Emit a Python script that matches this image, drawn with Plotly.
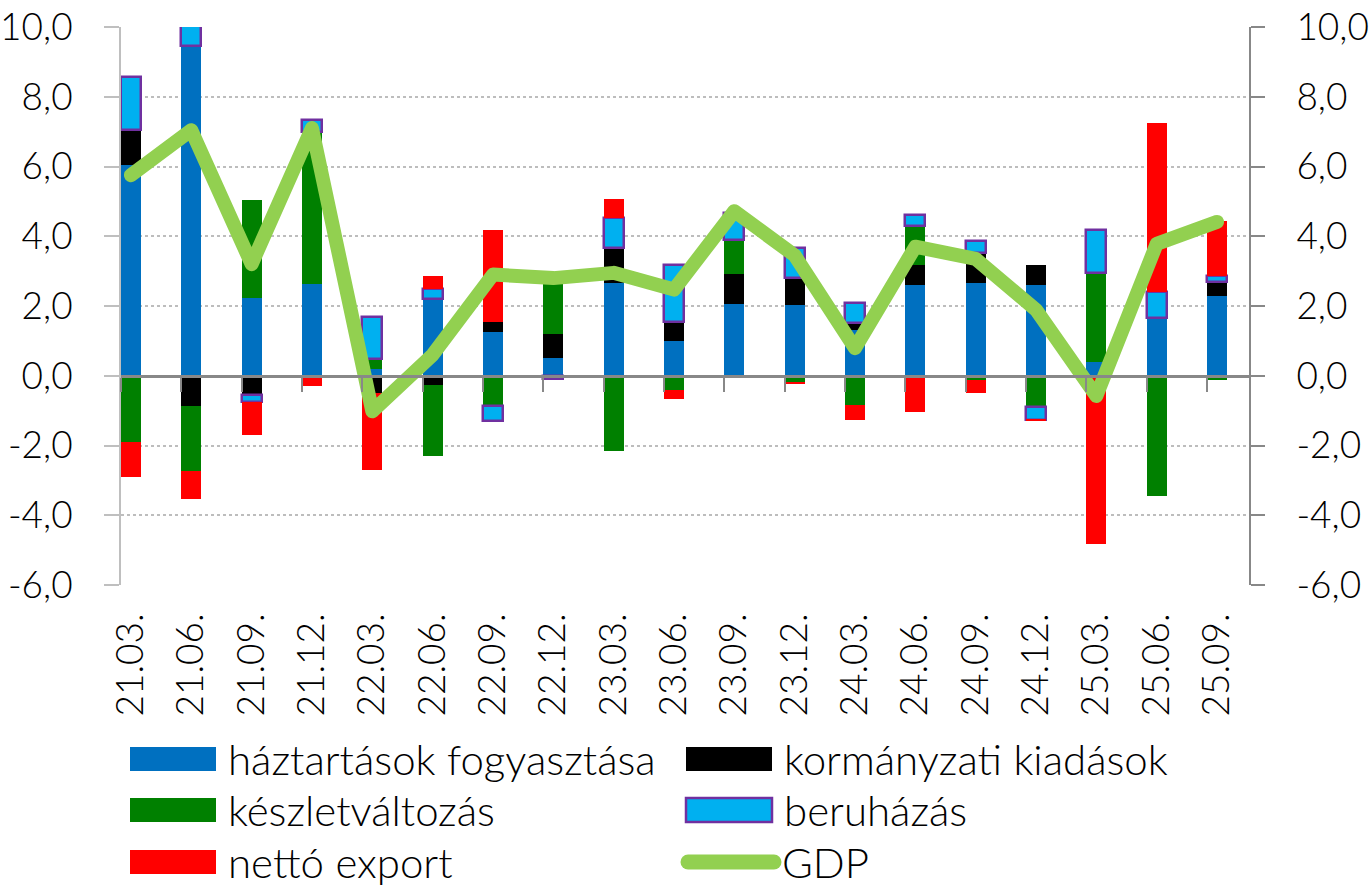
import plotly.graph_objects as go

categories = ["21.03.", "21.06.", "21.09.", "21.12.", "22.03.", "22.06.", "22.09.", "22.12.",
              "23.03.", "23.06.", "23.09.", "23.12.", "24.03.", "24.06.", "24.09.", "24.12.",
              "25.03.", "25.06.", "25.09."]

haztartas = [6.03, 9.45, 2.24, 2.64, 0.19, 2.20, 1.26, 0.52, 2.65, 1.00, 2.05, 2.03, 1.30, 2.60, 2.65, 2.60, 0.40, 1.67, 2.30]
kormanyzati = [1.01, -0.86, -0.56, 0.00, -0.50, -0.27, 0.27, 0.68, 1.00, 0.53, 0.88, 0.77, 0.22, 0.57, 0.88, 0.57, 0.00, 0.00, 0.38]
keszlet = [-1.90, -1.86, 2.80, 4.36, 0.29, -2.03, -0.86, 1.65, -2.17, -0.40, 0.95, -0.18, -0.83, 1.13, -0.12, -0.91, 2.55, -3.46, -0.12]
beruhazas = [1.53, 1.10, -0.19, 0.33, 1.20, 0.30, -0.44, -0.10, 0.86, 1.65, 0.80, 0.87, 0.58, 0.31, 0.33, -0.35, 1.23, 0.74, 0.17]
netto_export = [-0.99, -0.80, -0.96, -0.30, -2.20, 0.35, 2.66, 0.00, 0.57, -0.26, 0.00, -0.05, -0.43, -1.05, -0.38, -0.03, -4.82, 4.85, 1.58]
gdp = [5.75, 7.04, 3.20, 7.10, -1.02, 0.60, 2.90, 2.80, 2.95, 2.47, 4.72, 3.45, 0.79, 3.70, 3.35, 1.89, -0.58, 3.78, 4.41]

y_tickvals = [-6, -4, -2, 0, 2, 4, 6, 8, 10]
y_ticktext = ["-6,0", "-4,0", "-2,0", "0,0", "2,0", "4,0", "6,0", "8,0", "10,0"]

series_names = ["háztartások fogyasztása", "kormányzati kiadások", "készletváltozás",
                "beruházás", "nettó export", "GDP"]

C_BLUE = "#0070C0"
C_BLACK = "#000000"
C_GREEN = "#008000"
C_CYAN = "#00B0F0"
C_PURPLE = "#7030A0"
C_RED = "#FF0000"
C_GDP = "#92D050"

FONT = "Lato, 'Open Sans', sans-serif"
YF = 37
XF = 37
LF = 42
W, H = 1370, 889
ML, MR, MT, MB = 121, 121, 27, 304
BAR_W = 0.33

x = list(range(len(categories)))

fig = go.Figure()
bar_specs = [
    (haztartas, series_names[0], C_BLUE, None),
    (kormanyzati, series_names[1], C_BLACK, None),
    (keszlet, series_names[2], C_GREEN, None),
    (beruhazas, series_names[3], C_CYAN, C_PURPLE),
    (netto_export, series_names[4], C_RED, None),
]
for vals, name, col, lcol in bar_specs:
    fig.add_trace(go.Bar(
        x=x, y=vals, name=name, width=BAR_W,
        marker=dict(color=col, line=dict(color=lcol if lcol else col, width=2.5 if lcol else 0)),
        showlegend=False,
    ))

fig.add_trace(go.Scatter(
    x=x, y=gdp, name=series_names[5], mode="lines",
    line=dict(color=C_GDP, width=14), xaxis="x2", yaxis="y2", showlegend=False,
))

xr = [-BAR_W / 2, 18.53]
yr = [-6, 10]

fig.update_layout(
    width=W, height=H,
    margin=dict(l=ML, r=MR, t=MT, b=MB, autoexpand=False),
    paper_bgcolor="white", plot_bgcolor="white",
    barmode="relative", bargap=0,
    font=dict(family=FONT, size=YF, color="#000000", weight=300),
    xaxis=dict(range=xr, tickvals=x, ticktext=categories, tickangle=-90,
               ticks="", showgrid=False, showline=False, zeroline=False, automargin=False,
               ticklabelstandoff=20, tickfont=dict(size=XF)),
    xaxis2=dict(range=xr, overlaying="x", anchor="free", position=6 / 16,
                showline=True, linecolor="#888888", linewidth=2.5, automargin=False,
                ticks="outside", ticklen=14, tickwidth=2, tickcolor="#888888",
                tickvals=[v - BAR_W / 2 for v in x], showticklabels=False,
                showgrid=False, zeroline=False),
    yaxis=dict(range=yr, tickvals=y_tickvals, ticktext=y_ticktext, automargin=False,
               showline=True, linecolor="#BFBFBF", linewidth=2,
               ticks="outside", ticklen=15, tickwidth=2, tickcolor="#BFBFBF",
               showgrid=True, gridcolor="#BDBDBD", gridwidth=2, griddash="dot",
               zeroline=False, ticklabelstandoff=24, tickfont=dict(size=YF)),
    yaxis2=dict(range=yr, tickvals=y_tickvals, ticktext=y_ticktext, automargin=False,
                overlaying="y", side="right", anchor="x2",
                showline=True, linecolor="#888888", linewidth=2,
                ticks="outside", ticklen=14, tickwidth=2, tickcolor="#888888",
                showgrid=False, zeroline=False, ticklabelstandoff=24, tickfont=dict(size=YF)),
)

# manual legend (pixel layout converted to paper coordinates)
pw = W - ML - MR
ph = H - MT - MB
def px(xp):
    return (xp - ML) / pw
def py(yp):
    return (H - MB - yp) / ph

legend_items = [
    (series_names[0], C_BLUE, None, 130, 747),
    (series_names[1], C_BLACK, None, 686, 747),
    (series_names[2], C_GREEN, None, 130, 798),
    (series_names[3], C_CYAN, C_PURPLE, 686, 798),
    (series_names[4], C_RED, None, 130, 850),
]
for name, col, lcol, x0, y0 in legend_items:
    fig.add_shape(type="rect", xref="paper", yref="paper",
                  x0=px(x0), x1=px(x0 + 86), y0=py(y0), y1=py(y0 + 24),
                  fillcolor=col, line=dict(color=lcol if lcol else col, width=2.5 if lcol else 0))
    fig.add_annotation(xref="paper", yref="paper", x=px(x0 + 96), y=py(y0 + 12),
                       text=name, showarrow=False, xanchor="left", yanchor="middle",
                       font=dict(family=FONT, size=LF, color="#000000", weight=300))

fig.add_shape(type="line", xref="paper", yref="paper",
              x0=px(688), x1=px(774), y0=py(862), y1=py(862),
              line=dict(color=C_GDP, width=15))
fig.add_annotation(xref="paper", yref="paper", x=px(780), y=py(862),
                   text=series_names[5], showarrow=False, xanchor="left", yanchor="middle",
                   font=dict(family=FONT, size=LF, color="#000000", weight=300))

post = """
var st = document.createElement('style');
st.innerHTML = '.scatterlayer .js-line{stroke-linejoin:round !important;stroke-linecap:round !important;} .shapelayer path{stroke-linecap:round;}';
document.head.appendChild(st);
"""
fig.write_html("out.html", post_script=post)
